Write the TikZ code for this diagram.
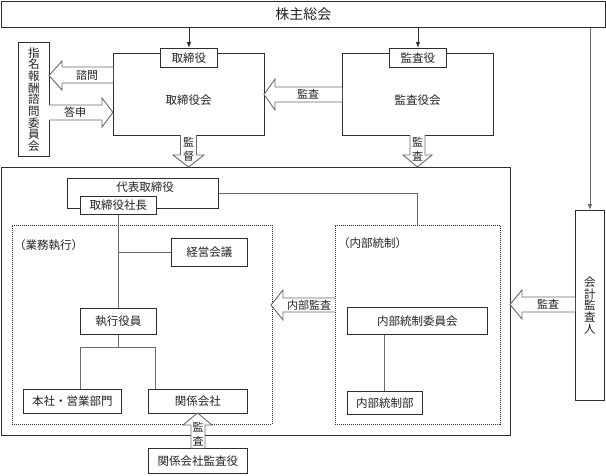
\documentclass[tikz,border=0pt]{standalone}
\usepackage{fontspec}
\setmainfont{Noto Sans CJK JP}
\usetikzlibrary{arrows.meta}
\definecolor{boxc}{HTML}{2E2E2E}
\definecolor{linec}{HTML}{6A6A6A}
\definecolor{txtc}{HTML}{222222}
\tikzset{
  box/.style={draw=boxc, fill=white, line width=0.9pt, inner sep=0pt, align=center,
    text=txtc, font=\fontsize{11.5}{11.7}\selectfont},
  dotbox/.style={draw=boxc, dash pattern=on 1pt off 1pt, line width=0.8pt, inner sep=0pt},
  txt/.style={inner sep=0pt, text=txtc, font=\fontsize{11.5}{12}\selectfont},
  conn/.style={draw=linec, line width=0.9pt},
  tip/.style={-{Latex[length=6pt,width=4.5pt]}},
  blk/.style={draw=linec, fill=white, line width=0.9pt, line join=miter},
  alab/.style={inner sep=0pt, align=center, text=txtc, font=\fontsize{11}{14}\selectfont},
}
\newcommand\mybox[7]{\node[box,#1,anchor=north west,minimum width={#5-#3},minimum height={#6-#4}] (#2) at (#3,#4) {#7};}
\begin{document}
\begin{tikzpicture}[x=1pt,y=-1pt]
\path[use as bounding box] (0,0) rectangle (606,475);
% outer frame and dotted groups
\node[box,fill=none,anchor=north west,minimum width=509,minimum height=268] (outer) at (1,167) {};
\node[dotbox,anchor=north west,minimum width=260,minimum height=199] (gyomu) at (12,225) {};
\node[dotbox,anchor=north west,minimum width=165,minimum height=199] (naibu) at (335,225) {};
\node[txt,anchor=west] (gyomul) at (14,245) {（業務執行）};
\node[txt,anchor=west] (naibul) at (338,243) {（内部統制）};
% boxes
\mybox{}{kabu}{1}{1}{605}{27}{\fontsize{14}{14}\selectfont 株主総会}
\mybox{}{tbk}{113}{53}{264}{135}{}
\node[txt] (tbkt) at (188.5,100) {取締役会};
\mybox{}{tbktab}{160}{48}{217}{67}{取締役}
\mybox{}{kns}{342}{53}{493}{135}{}
\node[txt] (knst) at (417.5,100) {監査役会};
\mybox{}{knstab}{389}{48}{446}{67}{監査役}
\mybox{}{shimei}{18}{42}{49}{156}{指\\名\\報\\酬\\諮\\問\\委\\員\\会}
\mybox{}{kaikei}{575}{210}{604}{400}{会\\計\\監\\査\\人}
\mybox{}{daihyo}{67}{178}{218}{208}{}
\node[txt] (daihyot) at (145,187) {代表取締役};
\mybox{}{shacho}{80}{196}{156}{214}{取締役社長}
\mybox{}{keiei}{171}{238}{247}{266}{経営会議}
\mybox{}{shikko}{80}{308}{156}{334}{執行役員}
\mybox{}{honsha}{23}{389}{121}{413}{本社・営業部門}
\mybox{}{kankei}{148}{389}{247}{413}{関係会社}
\mybox{}{iinkai}{347}{307}{487}{334}{内部統制委員会}
\mybox{}{naibubu}{347}{391}{422}{414}{内部統制部}
\mybox{}{kkansa}{148}{448}{247}{473}{関係会社監査役}
% thin connectors
\draw[tip,draw=boxc,line width=0.9pt] (kabu.south -| tbktab.north) -- (tbktab.north);
\draw[tip,draw=boxc,line width=0.9pt] (kabu.south -| knstab.north) -- (knstab.north);
\draw[conn,tip] (kabu.south -| kaikei.north) -- (kaikei.north);
\draw[conn] (daihyo.east) -| (naibu.north);
\draw[conn] (shacho.south) -- (shikko.north);
\draw[conn] (shacho.south |- keiei.west) -- (keiei.west);
\coordinate (bl) at (80,347);
\coordinate (br) at (155,347);
\draw[conn] (shikko.south) -- (shikko.south |- bl);
\draw[conn] (bl |- honsha.north) -- (bl) -- (br) -- (br |- kankei.north);
\coordinate (ii) at (384,340);
\draw[conn] (ii |- iinkai.south) -- (ii |- naibubu.north);
% block arrows
\draw[blk] (113,67) -- (62,67) -- (62,61) -- (49,75.5) -- (62,90) -- (62,83) -- (113,83);
\node[alab] (shimon) at (87,75) {諮問};
\draw[blk] (49,105) -- (102,105) -- (102,98) -- (113,112.5) -- (102,127) -- (102,120) -- (49,120);
\node[alab] (toshin) at (75,112.5) {答申};
\draw[blk] (342,87) -- (275,87) -- (275,79) -- (264,94.5) -- (275,110) -- (275,102) -- (342,102);
\node[alab] (kansa1) at (308,94.5) {監査};
\draw[blk] (180.5,135) -- (180.5,155) -- (173,155) -- (188.5,167) -- (204,155) -- (196.5,155) -- (196.5,135);
\node[alab] (kantoku) at (188.5,149) {監\\督};
\draw[blk] (410,135) -- (410,155) -- (403,155) -- (417.5,167) -- (432,155) -- (425,155) -- (425,135);
\node[alab] (kansa2) at (417.5,149) {監\\査};
\draw[blk] (335,298) -- (283,298) -- (283,290) -- (271,305) -- (283,320) -- (283,312) -- (335,312);
\node[alab] (naibukansa) at (309,305) {内部監査};
\draw[blk] (575,297) -- (522,297) -- (522,290) -- (510,304.5) -- (522,319) -- (522,312) -- (575,312);
\node[alab] (kansa3) at (548,304.5) {監査};
\draw[blk] (191,448) -- (191,425) -- (183,425) -- (197.5,413) -- (212,425) -- (205,425) -- (205,448);
\node[alab] (kansa4) at (198,434.5) {監\\査};
\end{tikzpicture}
\end{document}
